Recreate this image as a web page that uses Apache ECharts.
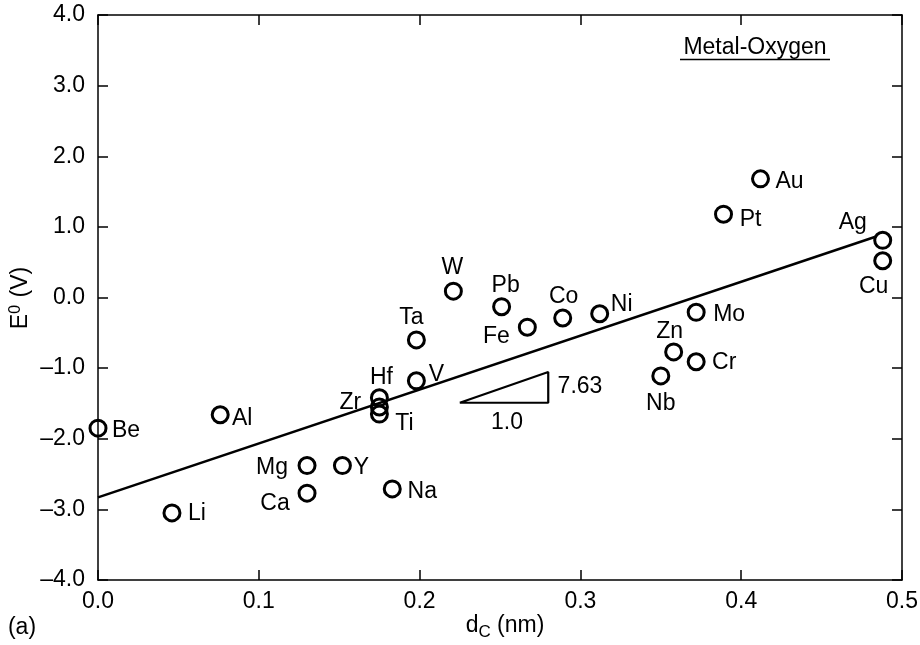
<!DOCTYPE html>
<html>
<head>
<meta charset="utf-8">
<script src="https://cdn.jsdelivr.net/npm/echarts@6/dist/echarts.min.js"></script>
<style>
  html, body { margin: 0; padding: 0; background: #fff; }
  #chart { width: 920px; height: 645px; }
</style>
</head>
<body>
<div id="chart"></div>
<script>
  // 元素名称
  const metals = ['Be', 'Li', 'Al', 'Mg', 'Ca', 'Y', 'Na', 'Hf', 'Zr', 'Ti', 'V', 'Ta', 'W', 'Pb', 'Fe', 'Co', 'Ni',
    'Mo', 'Zn', 'Cr', 'Nb', 'Pt', 'Au', 'Ag', 'Cu'];
  // d_C (nm)
  const dC = [0.0, 0.046, 0.076, 0.130, 0.130, 0.152, 0.183, 0.175, 0.175, 0.175, 0.198, 0.198, 0.221, 0.251, 0.267, 0.289, 0.312,
    0.372, 0.358, 0.372, 0.350, 0.389, 0.412, 0.488, 0.488];
  // E0 (V)
  const e0 = [-1.85, -3.05, -1.66, -2.38, -2.77, -2.38, -2.71, -1.42, -1.55, -1.65, -1.18, -0.60, 0.09, -0.13, -0.42, -0.29, -0.23,
    -0.21, -0.77, -0.91, -1.11, 1.18, 1.68, 0.81, 0.52];

  // 拟合直线 E0 = -2.83 + 7.63 dC
  const fitX = [0.0, 0.484];
  const fitIntercept = -2.83;
  const fitSlope = 7.63;

  // 斜率三角形
  const triX = [0.225, 0.280, 0.280, 0.225];
  const triY = [-1.49, -1.49, -1.055, -1.49];

  const FONT = 'Liberation Sans, Arial, sans-serif';
  const FS = 23;
  const SYM = 16;
  const HALF = (SYM + 3) / 2;

  // 标签相对圆心的偏移（样式）
  const labelOffset = {
    Be: [28, 2], Li: [25, 1], Al: [22, 4], Mg: [-35, 2], Ca: [-32, 11], Y: [19, 2], Na: [30, 3],
    Hf: [2, -20], Zr: [-29, -4], Ti: [25, 10], V: [20, -6], Ta: [-5, -22], W: [-1, -23], Pb: [4, -21],
    Fe: [-31, 9], Co: [1, -21], Ni: [22, -9], Mo: [33, 2], Zn: [-4, -20], Cr: [28, 1], Nb: [0, 28],
    Pt: [27, 5], Au: [29, 3], Ag: [-30, -18], Cu: [-9, 26]
  };

  const pointData = metals.map(function (m, i) {
    const off = labelOffset[m];
    return {
      name: m,
      value: [dC[i], e0[i]],
      label: { position: [HALF + off[0], HALF + off[1]] }
    };
  });

  const fitData = fitX.map(function (x) { return [x, fitIntercept + fitSlope * x]; });
  const triData = triX.map(function (x, i) { return [x, triY[i]]; });

  const axisText = { color: '#000', fontSize: FS, fontFamily: FONT };
  const boxLine = { show: true, onZero: false, lineStyle: { color: '#000', width: 1.5 } };
  const tickIn = { show: true, inside: true, length: 10, lineStyle: { color: '#000', width: 1.5 } };

  const option = {
    backgroundColor: '#fff',
    animation: false,
    textStyle: { fontFamily: FONT },
    grid: { left: 98, right: 18, top: 15, bottom: 65, containLabel: false, outerBoundsMode: 'none' },
    xAxis: [
      {
        type: 'value', min: 0, max: 0.5, interval: 0.1, position: 'bottom',
        axisLine: boxLine, axisTick: tickIn, splitLine: { show: false },
        axisLabel: Object.assign({ margin: 10, formatter: function (v) { return v.toFixed(1); } }, axisText)
      },
      {
        type: 'value', min: 0, max: 0.5, interval: 0.1, position: 'top',
        axisLine: boxLine, axisTick: tickIn, axisLabel: { show: false }, splitLine: { show: false }
      }
    ],
    yAxis: [
      {
        type: 'value', min: -4, max: 4, interval: 1, position: 'left',
        axisLine: boxLine, axisTick: tickIn, splitLine: { show: false },
        axisLabel: Object.assign({
          margin: 13,
          formatter: function (v) { return (v < 0 ? '\u2013' : '') + Math.abs(v).toFixed(1); }
        }, axisText)
      },
      {
        type: 'value', min: -4, max: 4, interval: 1, position: 'right',
        axisLine: boxLine, axisTick: tickIn, axisLabel: { show: false }, splitLine: { show: false }
      }
    ],
    series: [
      {
        type: 'line',
        data: fitData,
        symbol: 'none',
        lineStyle: { color: '#000', width: 2.6 },
        z: 2
      },
      {
        type: 'line',
        data: triData,
        symbol: 'none',
        lineStyle: { color: '#000', width: 2.2 },
        z: 2
      },
      {
        type: 'scatter',
        data: pointData,
        symbol: 'circle',
        symbolSize: SYM,
        itemStyle: { color: 'rgba(255,255,255,0)', borderColor: '#000', borderWidth: 3, opacity: 1 },
        label: {
          show: true, formatter: '{b}', align: 'center', verticalAlign: 'middle', opacity: 1,
          color: '#000', fontSize: FS, fontFamily: FONT, textBorderWidth: 0
        },
        z: 3
      }
    ],
    graphic: [
      { type: 'text', x: 580, y: 387, style: { text: '7.63', fontSize: FS, fontFamily: FONT, fill: '#000', align: 'center', verticalAlign: 'middle' } },
      { type: 'text', x: 507, y: 423, style: { text: '1.0', fontSize: FS, fontFamily: FONT, fill: '#000', align: 'center', verticalAlign: 'middle' } },
      { type: 'text', x: 755, y: 48, style: { text: 'Metal-Oxygen', fontSize: FS, fontFamily: FONT, fill: '#000', align: 'center', verticalAlign: 'middle' } },
      { type: 'line', shape: { x1: 680, y1: 59.5, x2: 830, y2: 59.5 }, style: { stroke: '#000', lineWidth: 1.5 } },
      { type: 'text', x: 22, y: 628, style: { text: '(a)', fontSize: FS, fontFamily: FONT, fill: '#000', align: 'center', verticalAlign: 'middle' } },
      {
        type: 'text', x: 505, y: 626,
        style: {
          text: '{a|d}{s|C}{a| (nm)}', align: 'center', verticalAlign: 'middle',
          rich: {
            a: { fontSize: FS, fontFamily: FONT, fill: '#000', lineHeight: 28 },
            s: { fontSize: 17, fontFamily: FONT, fill: '#000', lineHeight: 28, padding: [12, 0, 0, 0] }
          }
        }
      },
      {
        type: 'text', x: 21, y: 298, rotation: Math.PI / 2,
        style: {
          text: '{a|E}{s|0}{a| (V)}', align: 'center', verticalAlign: 'middle',
          rich: {
            a: { fontSize: FS, fontFamily: FONT, fill: '#000', lineHeight: 28 },
            s: { fontSize: 16, fontFamily: FONT, fill: '#000', lineHeight: 28, padding: [0, 1, 10, 0] }
          }
        }
      }
    ]
  };

  const myChart = echarts.init(document.getElementById('chart'));
  myChart.setOption(option);
</script>
</body>
</html>
